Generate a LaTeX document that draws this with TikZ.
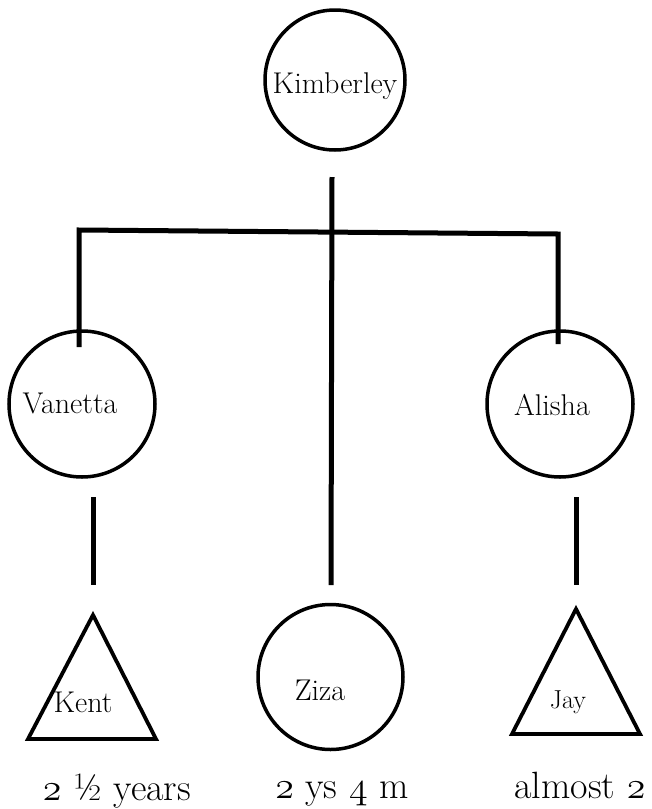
\documentclass[tikz,border=0pt]{standalone}
\usepackage{fontspec}
\usepackage{graphicx}
\newcommand\osf[1]{\scalebox{3.17}{\fontsize{12}{14}\usefont{OML}{cmm}{m}{it}#1}}
\tikzset{
  conn/.style={line width=5pt, line cap=butt},
  person/.style={circle, draw, line width=3.5pt, inner sep=0pt, minimum size=#1},
  tri/.style={draw, line width=3.8pt, line join=miter},
  nametext/.style={anchor=base, inner sep=0pt, font=\fontsize{30}{36}\selectfont},
  agetext/.style={anchor=base, inner sep=0pt, font=\fontsize{38}{44}\selectfont},
}
\begin{document}
\begin{tikzpicture}[x=1pt, y=-1pt]
\useasboundingbox (0,0) rectangle (651,809);
% circles
\node[person=140pt] (kim) at (335,80) {};
\node[person=146pt] (van) at (82,404) {};
\node[person=146pt] (ali) at (560,404) {};
\node[person=145pt] (ziz) at (330.5,677) {};
% triangles
\coordinate (kentA) at (93,615);
\coordinate (kentL) at (28,739);
\coordinate (kentR) at (156,739);
\draw[tri] (kentA) -- (kentR) -- (kentL) -- cycle;
\coordinate (jayA) at (576,609);
\coordinate (jayL) at (512,734);
\coordinate (jayR) at (640,734);
\draw[tri] (jayA) -- (jayR) -- (jayL) -- cycle;
% names
\node[nametext] (tkim) at (335,93) {Kimberley};
\node[nametext] (tvan) at (70,413) {Vanetta};
\node[nametext] (tali) at (552,415) {Alisha};
\node[nametext] (tkent) at (83,712) {Kent};
\node[nametext] (tziz) at (320,700) {Ziza};
\node[nametext, font=\fontsize{26}{30}\selectfont] (tjay) at (568,708) {Jay};
% ages
\node[agetext] (akent) at (117,800) {\osf{2} ½ years};
\node[agetext] (aziz) at (342,798) {\osf{2} ys \osf{4} m};
\node[agetext] (ajay) at (580,798) {almost \osf{2}};
% connectors
\coordinate (ctop) at (332,177);
\coordinate (cbot) at (331,585);
\coordinate (barL) at (79,230);
\coordinate (barR) at (558,234);
\coordinate (vanUp) at (79,347);
\coordinate (aliUp) at (558,344);
\coordinate (vanD1) at (93,497);
\coordinate (vanD2) at (93,585);
\coordinate (aliD1) at (576,497);
\coordinate (aliD2) at (576,585);
\draw[conn] (ctop) -- (cbot);
\draw[conn, line join=miter] (vanUp) -- (barL) -- (barR) -- (aliUp);
\draw[conn] (vanD1) -- (vanD2);
\draw[conn] (aliD1) -- (aliD2);
\end{tikzpicture}
\end{document}
